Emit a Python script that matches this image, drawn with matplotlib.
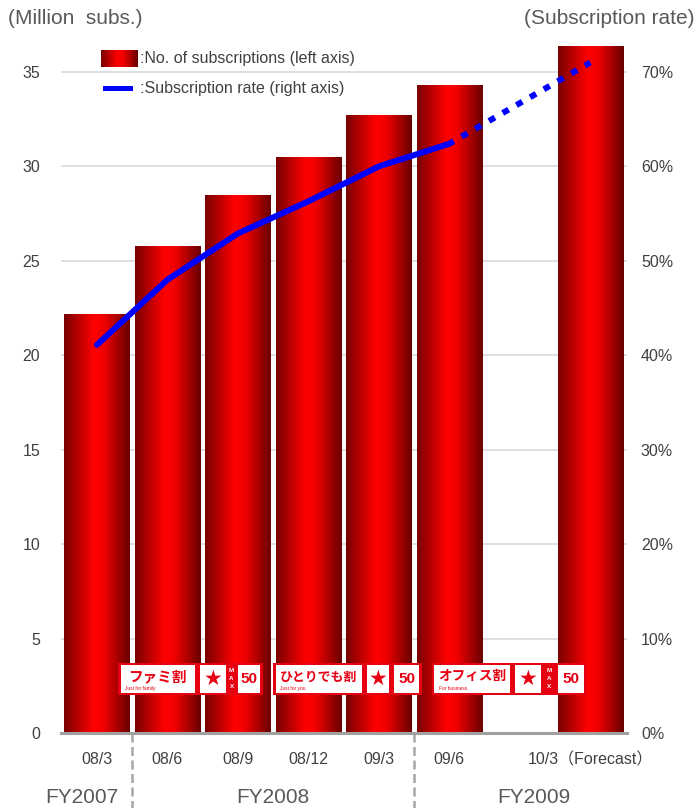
import numpy as np
import matplotlib
matplotlib.use("Agg")
import matplotlib.pyplot as plt
from matplotlib.colors import LinearSegmentedColormap
from matplotlib.patches import Rectangle
from matplotlib.lines import Line2D
import matplotlib.transforms as mtransforms

plt.rcParams['font.family'] = ['Liberation Sans', 'Noto Sans CJK JP', 'DejaVu Sans']

# subscriptions (million) and subscription rate (%) at each quarter end
periods = ['08/3', '08/6', '08/9', '08/12', '09/3', '09/6', '10/3（Forecast）']
slots = [0, 1, 2, 3, 4, 5, 7]
subs = [22.2, 25.8, 28.5, 30.5, 32.7, 34.3, 36.4]
rate = [41.1, 48.0, 52.9, 56.3, 60.0, 62.4, 71.0]
n_actual = 6  # last point is a forecast

fiscal_years = ['FY2007', 'FY2008', 'FY2009']
fy_centers = [-0.22, 2.5, 6.2]
fy_breaks = [0.5, 4.5]

left_ticks = [0, 5, 10, 15, 20, 25, 30, 35]
right_ticks = [0, 10, 20, 30, 40, 50, 60, 70]

TEXT = '#404040'
RED = '#e60012'
BLUE = '#0000ff'

bar_cmap = LinearSegmentedColormap.from_list(
    'cyl', [(0.0, '#780000'), (0.45, '#ff0000'), (0.6, '#f20000'), (1.0, '#680000')])
grad = np.linspace(0, 1, 256).reshape(1, -1)

fig = plt.figure(figsize=(6.98, 8.08), dpi=100)
ax = fig.add_axes([61 / 698, 75 / 808, 566 / 698, 717.7 / 808])

# bars with a cylinder-like horizontal gradient
bars = ax.bar(slots, subs, width=0.93, color='none', edgecolor='none', zorder=2)
for b in bars:
    x0, w, h = b.get_x(), b.get_width(), b.get_height()
    im = ax.imshow(grad, cmap=bar_cmap, aspect='auto', interpolation='bicubic',
                   extent=(x0, x0 + w, 0, h), zorder=2)
    im.set_clip_path(b)

ax.set_xlim(-0.51, 7.52)
ax.set_ylim(0, 38)
ax.set_yticks(left_ticks)
ax.set_xticks(slots)
ax.set_xticklabels(periods)
ax.tick_params(axis='y', length=0, pad=15, labelsize=11.5, labelcolor=TEXT)
ax.tick_params(axis='x', length=0, pad=14, labelsize=11.5, labelcolor=TEXT)
ax.grid(axis='y', color='#d9d9d9', lw=1.2)
ax.set_axisbelow(True)
for s in ['top', 'left', 'right']:
    ax.spines[s].set_visible(False)
ax.spines['bottom'].set_color('#a0a0a0')
ax.spines['bottom'].set_linewidth(2.2)
ax.spines['bottom'].set_zorder(3)

# right axis: subscription rate
ax2 = ax.twinx()
ax2.set_ylim(0, 76)
ax2.set_yticks(right_ticks)
ax2.set_yticklabels([f'{t}%' for t in right_ticks])
ax2.tick_params(axis='y', length=0, pad=10, labelsize=11.5, labelcolor=TEXT)
for s in ax2.spines.values():
    s.set_visible(False)

ax2.plot(slots[:n_actual], rate[:n_actual], color=BLUE, lw=4.3,
         solid_capstyle='round', solid_joinstyle='round')
ax2.plot(slots[n_actual - 1:], rate[n_actual - 1:], color=BLUE, lw=4.3,
         linestyle=(0.3, (1.15, 1.5)), dash_capstyle='butt')

# fiscal year labels and separators below the axis
blend = mtransforms.blended_transform_factory(ax.transData, ax.transAxes)
for name, xc in zip(fiscal_years, fy_centers):
    ax.text(xc, -0.09, name, transform=blend, ha='center', va='center',
            fontsize=15, color='#595959')
for xb in fy_breaks:
    ax.plot([xb, xb], [0, -0.11], transform=blend, clip_on=False,
            color='#a6a6a6', lw=1.8, dashes=(3.6, 1.8))


# campaign banners drawn over the bars
def draw_banner(edges, name, tagline, with_max, name_size):
    y0, y1 = 2.0, 3.7
    dx, dy = 0.035, 0.12
    ax.add_patch(Rectangle((edges[0], y0), edges[-1] - edges[0], y1 - y0,
                           facecolor=RED, edgecolor='none', zorder=5))
    boxes = list(zip(edges[:-1], edges[1:]))
    roles = ['name', 'star', 'max', 'num'] if with_max else ['name', 'star', 'num']
    for (a, b), role in zip(boxes, roles):
        cx = (a + b) / 2
        if role == 'max':
            for k, ch in enumerate('MAX'):
                ax.text(cx, 3.3 - k * 0.42, ch, ha='center', va='center',
                        fontsize=4.5, color='white', fontweight='bold', zorder=7)
            continue
        ax.add_patch(Rectangle((a + dx, y0 + dy), b - a - 2 * dx, y1 - y0 - 2 * dy,
                               facecolor='white', edgecolor='none', zorder=6))
        if role == 'name':
            ax.text(cx, 3.0, name, ha='center', va='center', fontsize=name_size,
                    color=RED, fontweight='bold', family='Noto Sans CJK JP', zorder=7)
            ax.text(a + 0.1, 2.33, tagline, ha='left', va='center', fontsize=3.5,
                    color=RED, zorder=7)
        elif role == 'star':
            ax.text(cx, 2.85, '★', ha='center', va='center', fontsize=15,
                    color=RED, family='DejaVu Sans', zorder=7)
        else:
            ax.text(cx, 2.85, '50', ha='center', va='center', fontsize=11,
                    color=RED, fontweight='bold',
                    family=['Liberation Sans Narrow', 'Liberation Sans'], zorder=7)


draw_banner([0.30, 1.42, 1.86, 1.96, 2.35], 'ファミ割', 'Just for family', True, 10.5)
draw_banner([2.50, 3.80, 4.18, 4.61], 'ひとりでも割', 'Just for you', False, 9.3)
draw_banner([4.75, 5.90, 6.33, 6.50, 6.95], 'オフィス割', 'For business', True, 9.8)

# axis captions
fig.text(8 / 698, 1 - 18 / 808, '(Million  subs.)', ha='left', va='center',
         fontsize=15, color='#595959')
fig.text(695 / 698, 1 - 18 / 808, '(Subscription rate)', ha='right', va='center',
         fontsize=15, color='#595959')

# legend
sw = fig.add_axes([101 / 698, 1 - 67 / 808, 36 / 698, 17 / 808])
sw.imshow(grad, cmap=bar_cmap, aspect='auto', interpolation='bicubic')
sw.set_axis_off()
fig.add_artist(Line2D([105 / 698, 130 / 698], [1 - 88 / 808, 1 - 88 / 808],
                      transform=fig.transFigure, color=BLUE, lw=3.6))
fig.text(140 / 698, 1 - 59 / 808, ':No. of subscriptions (left axis)', ha='left',
         va='center', fontsize=11.5, color=TEXT)
fig.text(140 / 698, 1 - 88 / 808, ':Subscription rate (right axis)', ha='left',
         va='center', fontsize=11.5, color=TEXT)

fig.savefig('out.png', dpi=100)
